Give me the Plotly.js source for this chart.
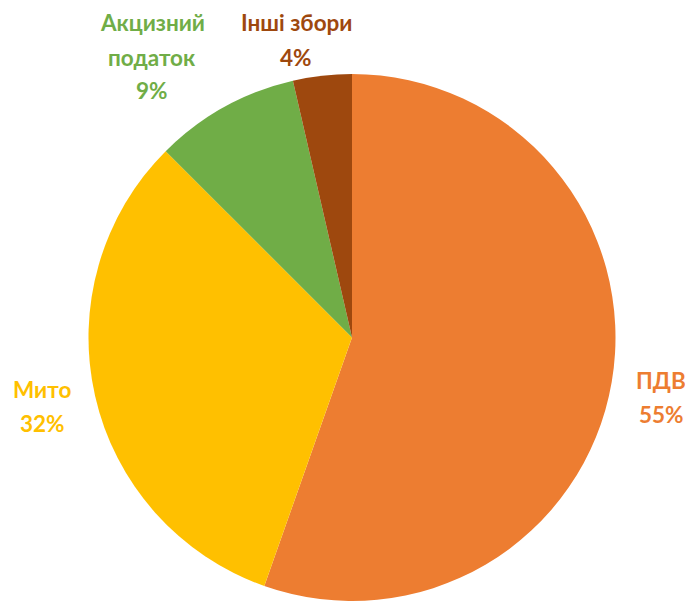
<!DOCTYPE html>
<html>
<head>
<meta charset="utf-8">
<script src="https://cdn.plot.ly/plotly-3.0.1.min.js"></script>
<style>
  html, body { margin: 0; padding: 0; background: #fff; }
  #graph { width: 685px; height: 601px; }
</style>
</head>
<body>
<div id="graph"></div>
<script>
// slice data, clockwise from 12 o'clock (shares in %, labels show rounded values)
var labels = ['ПДВ', 'Мито', 'Акцизний податок', 'Інші збори'];
var labelLines = [['ПДВ'], ['Мито'], ['Акцизний', 'податок'], ['Інші збори']];
var shares = [55.4, 32.1, 8.9, 3.6];
var colors = ['#ED7D31', '#FFC000', '#70AD47', '#9E480E'];

// label block placement (pixel centre x, pixel y of first line)
var labelPos = [
  {x: 661, y: 380},
  {x: 42, y: 389},
  {x: 152, y: 23},
  {x: 296, y: 23}
];
var lineGap = 34;

var W = 685, H = 601;

var annotations = [];
for (var i = 0; i < labels.length; i++) {
  var lines = labelLines[i].concat([Math.round(shares[i]) + '%']);
  for (var j = 0; j < lines.length; j++) {
    annotations.push({
      text: '<b>' + lines[j] + '</b>',
      x: labelPos[i].x / W,
      y: 1 - (labelPos[i].y + j * lineGap) / H,
      xref: 'paper', yref: 'paper',
      xanchor: 'center', yanchor: 'middle',
      showarrow: false,
      font: {family: 'Lato, "Open Sans", sans-serif', size: 22.5, color: colors[i]}
    });
  }
}

var trace = {
  type: 'pie',
  labels: labels,
  values: shares,
  sort: false,
  direction: 'clockwise',
  rotation: 0,
  textinfo: 'none',
  hoverinfo: 'none',
  marker: {colors: colors, line: {width: 0}},
  domain: {x: [86 / W, 618 / W], y: [1 - 601 / H, 1 - 74 / H]}
};

var layout = {
  width: W,
  height: H,
  margin: {l: 0, r: 0, t: 0, b: 0},
  paper_bgcolor: '#ffffff',
  showlegend: false,
  annotations: annotations
};

Plotly.newPlot('graph', [trace], layout, {displayModeBar: false, staticPlot: true});
</script>
</body>
</html>
